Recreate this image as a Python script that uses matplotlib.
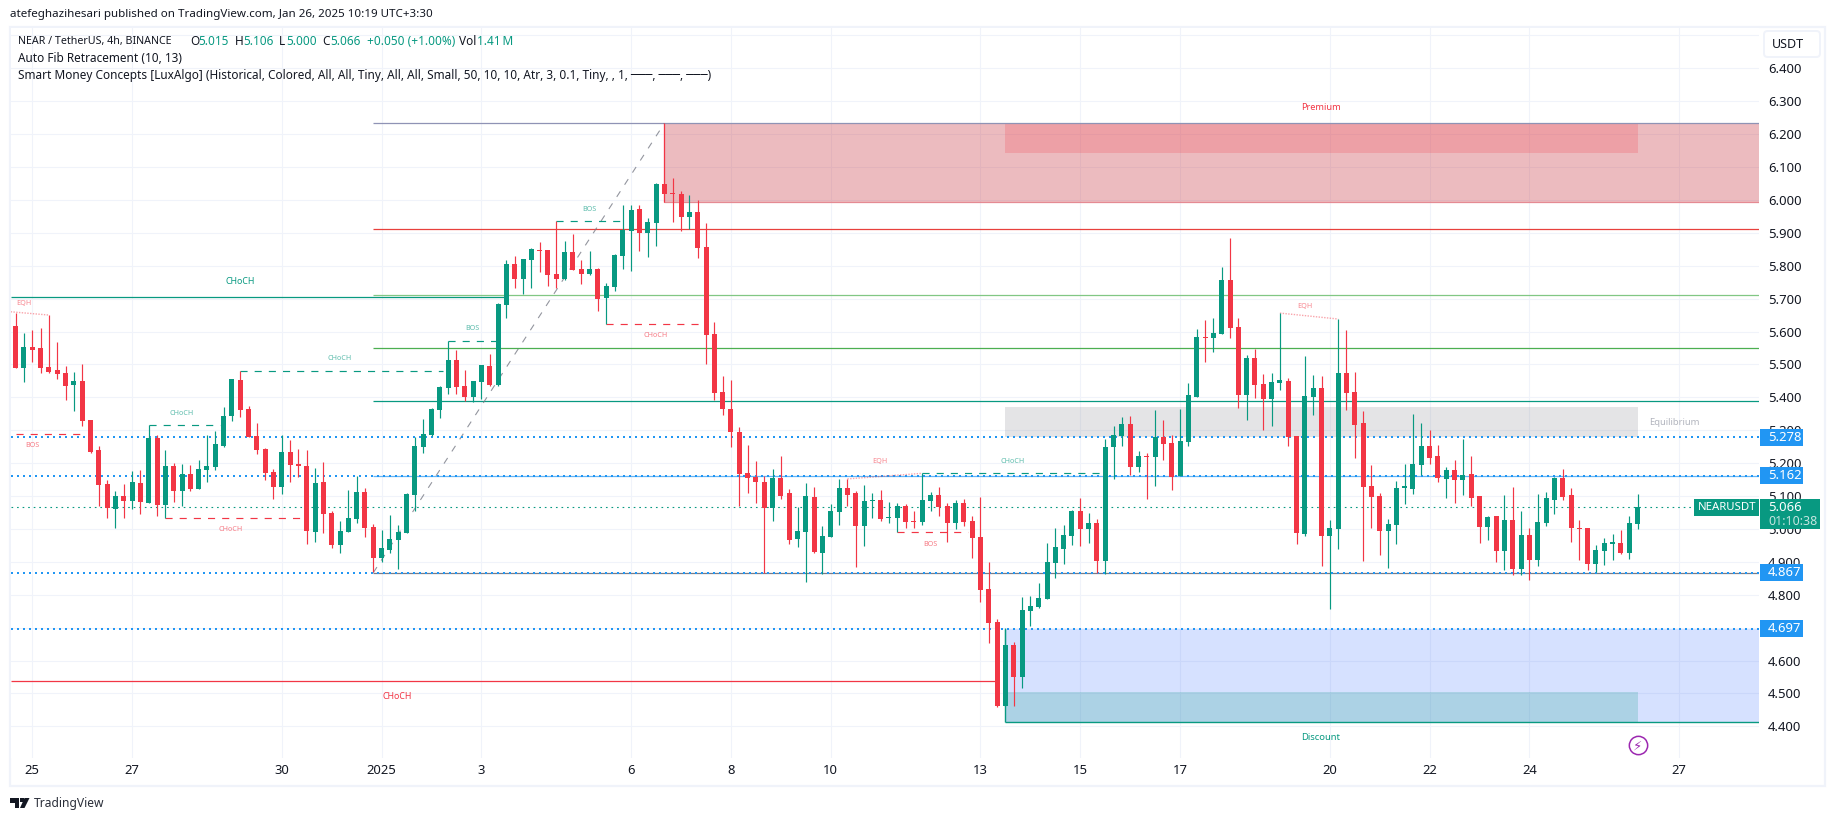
import numpy as np
import matplotlib
matplotlib.use('Agg')
import matplotlib.pyplot as plt
from matplotlib.patches import Rectangle, FancyBboxPatch, Polygon

W, H = 1835, 821
plt.rcParams['font.family'] = ['Noto Sans', 'DejaVu Sans']

GREEN = '#089981'
RED = '#f23645'
BLUE = '#2196f3'
GREY = '#787b86'
TEXT = '#131722'
GRID = '#f0f3fa'

### 4h candles, first one is two candles before Dec 25
opens = [5.617, 5.490, 5.553, 5.550, 5.492, 5.483, 5.474, 5.437, 5.449, 5.331, 5.240, 5.136, 5.060, 5.100, 5.085, 5.139,
         5.079, 5.276, 5.072, 5.191, 5.115, 5.167, 5.121, 5.179, 5.188, 5.252, 5.343, 5.452, 5.364, 5.282, 5.243, 5.173,
         5.127, 5.234, 5.197, 5.191, 4.990, 5.142, 5.048, 4.951, 4.990, 5.030, 5.112, 5.006, 4.911, 4.936, 4.966, 4.987,
         5.103, 5.249, 5.285, 5.361, 5.428, 5.513, 5.434, 5.401, 5.446, 5.495, 5.437, 5.680, 5.805, 5.759, 5.817, 5.848,
         5.848, 5.775, 5.759, 5.842, 5.790, 5.775, 5.790, 5.702, 5.735, 5.829, 5.905, 5.972, 5.899, 5.930, 6.048, 6.021,
         6.018, 5.948, 5.963, 5.857, 5.592, 5.416, 5.364, 5.295, 5.170, 5.158, 5.143, 5.064, 5.155, 5.109, 4.969, 4.991,
         5.097, 4.927, 4.975, 5.051, 5.124, 5.109, 5.009, 5.085, 5.088, 5.033, 5.033, 5.070, 5.024, 5.021, 5.085, 5.103,
         5.070, 5.018, 5.079, 5.024, 4.975, 4.817, 4.717, 4.462, 4.647, 4.550, 4.750, 4.763, 4.787, 4.896, 4.939, 4.978,
         5.054, 5.000, 5.018, 4.902, 5.249, 5.282, 5.319, 5.188, 5.222, 5.219, 5.279, 5.261, 5.161, 5.264, 5.401, 5.583,
         5.580, 5.592, 5.757, 5.614, 5.407, 5.520, 5.441, 5.395, 5.444, 5.450, 5.282, 4.984, 5.401, 5.428, 4.978, 5.000,
         5.474, 5.416, 5.322, 5.130, 5.100, 4.994, 5.012, 5.125, 5.121, 5.194, 5.252, 5.221, 5.152, 5.179, 5.149, 5.167,
         5.100, 5.006, 5.039, 4.933, 5.027, 4.878, 4.981, 4.905, 5.018, 5.088, 5.155, 5.103, 5.003, 5.003, 4.893, 4.933,
         4.955, 4.957, 4.927, 5.015]
highs = [5.657, 5.595, 5.604, 5.610, 5.650, 5.568, 5.495, 5.477, 5.501, 5.331, 5.252, 5.148, 5.115, 5.136, 5.176, 5.179,
         5.316, 5.285, 5.240, 5.200, 5.197, 5.194, 5.209, 5.285, 5.297, 5.370, 5.455, 5.480, 5.373, 5.322, 5.246, 5.182,
         5.285, 5.270, 5.243, 5.240, 5.185, 5.203, 5.054, 5.024, 5.118, 5.161, 5.124, 5.015, 4.996, 5.042, 5.012, 5.109,
         5.279, 5.334, 5.367, 5.434, 5.571, 5.544, 5.483, 5.450, 5.498, 5.531, 5.686, 5.817, 5.829, 5.820, 5.854, 5.872,
         5.848, 5.935, 5.875, 5.896, 5.817, 5.845, 5.793, 5.747, 5.835, 5.984, 5.984, 5.984, 5.945, 6.051, 6.233, 6.066,
         6.027, 6.015, 6.000, 5.930, 5.629, 5.465, 5.452, 5.310, 5.255, 5.206, 5.161, 5.182, 5.222, 5.121, 5.067, 5.140,
         5.127, 5.009, 5.076, 5.152, 5.152, 5.115, 5.133, 5.109, 5.118, 5.082, 5.079, 5.076, 5.054, 5.169, 5.112, 5.127,
         5.079, 5.088, 5.091, 5.039, 5.097, 4.899, 4.726, 4.699, 4.656, 4.793, 4.796, 4.836, 4.957, 5.003, 5.012, 5.057,
         5.094, 5.048, 5.030, 5.273, 5.313, 5.340, 5.343, 5.237, 5.231, 5.361, 5.331, 5.285, 5.364, 5.444, 5.608, 5.635,
         5.641, 5.796, 5.884, 5.641, 5.529, 5.547, 5.471, 5.474, 5.656, 5.459, 5.282, 5.525, 5.468, 5.465, 5.027, 5.637,
         5.605, 5.477, 5.358, 5.194, 5.109, 5.030, 5.146, 5.197, 5.349, 5.322, 5.300, 5.255, 5.188, 5.209, 5.273, 5.222,
         5.100, 5.039, 5.039, 5.103, 5.127, 5.054, 5.003, 5.106, 5.112, 5.158, 5.182, 5.124, 5.027, 5.003, 4.951, 4.972,
         4.984, 4.996, 5.039, 5.106]
lows = [5.490, 5.447, 5.507, 5.474, 5.474, 5.455, 5.392, 5.358, 5.313, 5.231, 5.069, 5.033, 5.003, 5.033, 5.060, 5.045,
        5.079, 5.039, 5.032, 5.082, 5.069, 5.115, 5.121, 5.142, 5.179, 5.249, 5.328, 5.340, 5.279, 5.228, 5.148, 5.091,
        5.106, 5.142, 5.158, 4.954, 4.960, 4.987, 4.942, 4.927, 4.990, 5.018, 4.975, 4.869, 4.899, 4.927, 4.878, 4.987,
        5.054, 5.231, 5.282, 5.337, 5.410, 5.410, 5.389, 5.386, 5.395, 5.434, 5.434, 5.641, 5.732, 5.714, 5.732, 5.781,
        5.738, 5.732, 5.756, 5.787, 5.744, 5.772, 5.662, 5.622, 5.723, 5.790, 5.784, 5.845, 5.826, 5.860, 5.993, 5.933,
        5.905, 5.911, 5.823, 5.501, 5.392, 5.346, 5.249, 5.070, 5.109, 5.079, 4.866, 5.024, 5.091, 4.954, 4.945, 4.839,
        4.927, 4.863, 4.975, 5.012, 5.070, 4.884, 4.948, 5.033, 5.024, 5.018, 4.990, 5.003, 5.003, 5.012, 5.054, 5.039,
        4.960, 5.000, 5.009, 4.912, 4.778, 4.653, 4.459, 4.462, 4.462, 4.516, 4.705, 4.760, 4.787, 4.851, 4.893, 4.951,
        4.948, 4.957, 4.866, 4.863, 5.152, 5.252, 5.164, 5.173, 5.091, 5.130, 5.209, 5.118, 5.161, 5.252, 5.401, 5.507,
        5.538, 5.592, 5.580, 5.368, 5.331, 5.398, 5.301, 5.313, 5.422, 5.252, 4.954, 4.978, 5.346, 4.887, 4.756, 4.939,
        5.361, 5.215, 4.902, 5.003, 4.921, 4.881, 4.954, 5.076, 5.106, 5.164, 5.197, 5.142, 5.094, 5.079, 5.103, 5.070,
        4.957, 4.966, 4.899, 4.875, 4.860, 4.860, 4.845, 4.887, 5.009, 5.045, 5.088, 4.960, 4.905, 4.875, 4.869, 4.890,
        4.905, 4.924, 4.908, 5.000]
closes = [5.490, 5.553, 5.544, 5.490, 5.477, 5.471, 5.434, 5.449, 5.328, 5.234, 5.133, 5.063, 5.100, 5.085, 5.142, 5.082,
          5.276, 5.072, 5.191, 5.115, 5.167, 5.121, 5.182, 5.191, 5.258, 5.343, 5.455, 5.361, 5.279, 5.240, 5.170, 5.127,
          5.234, 5.194, 5.191, 4.993, 5.139, 5.045, 4.951, 4.993, 5.033, 5.112, 5.003, 4.911, 4.942, 4.969, 4.990, 5.106,
          5.252, 5.288, 5.364, 5.431, 5.513, 5.431, 5.401, 5.450, 5.498, 5.437, 5.683, 5.805, 5.759, 5.820, 5.851, 5.845,
          5.772, 5.759, 5.842, 5.787, 5.775, 5.790, 5.699, 5.738, 5.832, 5.908, 5.969, 5.899, 5.933, 6.048, 6.018, 6.018,
          5.948, 5.963, 5.854, 5.589, 5.413, 5.364, 5.295, 5.167, 5.155, 5.143, 5.064, 5.155, 5.100, 4.966, 4.994, 5.100,
          4.930, 4.978, 5.054, 5.124, 5.103, 5.009, 5.085, 5.088, 5.030, 5.036, 5.070, 5.021, 5.021, 5.088, 5.103, 5.067,
          5.018, 5.079, 5.021, 4.972, 4.814, 4.714, 4.462, 4.647, 4.550, 4.753, 4.766, 4.790, 4.899, 4.945, 4.981, 5.054,
          5.000, 5.018, 4.902, 5.249, 5.286, 5.319, 5.188, 5.222, 5.219, 5.279, 5.258, 5.158, 5.267, 5.407, 5.583, 5.580,
          5.595, 5.757, 5.611, 5.407, 5.520, 5.437, 5.395, 5.447, 5.453, 5.279, 4.987, 5.404, 5.428, 4.978, 5.003, 5.474,
          5.413, 5.316, 5.127, 5.097, 4.994, 5.015, 5.124, 5.127, 5.197, 5.252, 5.215, 5.155, 5.179, 5.148, 5.164, 5.094,
          5.006, 5.036, 4.933, 5.027, 4.878, 4.981, 4.905, 5.021, 5.094, 5.155, 5.097, 5.003, 5.000, 4.893, 4.936, 4.957,
          4.957, 4.927, 5.018, 5.066]
candle_idx = np.arange(len(opens)) - 2

### axis ticks
day_ticks = [0, 12, 30, 42, 54, 72, 84, 96, 114, 126, 138, 156, 168, 180, 198]
day_labels = ['25', '27', '30', '2025', '3', '6', '8', '10', '13', '15', '17', '20', '22', '24', '27']
price_ticks = [4.4, 4.5, 4.6, 4.7, 4.8, 4.9, 5.0, 5.1, 5.2, 5.3, 5.4, 5.5, 5.6, 5.7, 5.8, 5.9, 6.0, 6.1, 6.2, 6.3, 6.4, 6.5]

### fib levels and swing
fib_prices = [6.233, 5.911, 5.711, 5.551, 5.389, 5.162, 4.867]
fib_colors = ['#8f93b5', '#e8403c', '#81c784', '#4caf50', GREEN, '#64b5f6', GREY]
fib_start = 41
fib_swing_x = [41, 76]
fib_swing_y = [4.867, 6.233]

### price tags on the axis
tag_prices = [5.278, 5.162, 4.867, 4.697]
last_price = 5.066

### smart money zones
premium_top, premium_bottom, premium_inner = 6.233, 5.993, 6.143
equil_top, equil_bottom = 5.370, 5.278
discount_top, discount_bottom, discount_inner = 4.697, 4.413, 4.503
premium_start, zone_start, zone_end = 76, 117, 193

### structure breaks: start candle, end candle, price
dash_starts = [-2, 14, 16, 25, 50, 63, 69, 104, 107]
dash_ends = [6.5, 22.6, 32.4, 49.4, 55.7, 71.4, 80.1, 112.5, 128.7]
dash_prices = [5.288, 5.315, 5.032, 5.479, 5.570, 5.935, 5.622, 4.990, 5.169]
dash_colors = [RED, GREEN, RED, GREEN, GREEN, GREEN, RED, RED, GREEN]
struct_texts = ['BOS', 'CHoCH', 'CHoCH', 'CHoCH', 'BOS', 'BOS', 'CHoCH', 'BOS', 'CHoCH']
struct_text_x = [0, 17.9, 23.9, 37, 52.9, 67, 75, 108, 117.9]
struct_text_y = [5.254, 5.351, 4.999, 5.518, 5.610, 5.971, 5.588, 4.952, 5.204]

eqh_x = [[-2.6, 2], [98, 107], [150, 157]]
eqh_y = [[5.660, 5.650], [5.152, 5.169], [5.656, 5.638]]
eqh_text_x = [-1, 101.9, 153]
eqh_text_y = [5.686, 5.204, 5.675]

fig = plt.figure(figsize=(W / 100, H / 100), dpi=100, facecolor='white')
LEFT, RIGHT, TOP, BOTTOM = 11, 1759, 28, 758
ax = fig.add_axes([LEFT / W, 1 - BOTTOM / H, (RIGHT - LEFT) / W, (BOTTOM - TOP) / H])
xmin, xmax = -2.56, 207.6
ax.set_xlim(xmin, xmax)
ax.set_ylim(4.3037, 6.5225)
for side in ax.spines.values():
    side.set_visible(False)
ax.set_axisbelow(True)
ax.grid(True, color=GRID, lw=0.8)
ax.set_xticks(day_ticks)
ax.set_xticklabels(day_labels)
ax.set_yticks(price_ticks)
ax.set_yticklabels(['%.3f' % p for p in price_ticks[:-1]] + [''])
ax.yaxis.tick_right()
ax.tick_params(axis='both', length=0, labelsize=9.4, labelcolor=TEXT)
ax.tick_params(axis='x', pad=4.5)
ax.tick_params(axis='y', pad=6.5)
ax.get_xticklabels()[3].set_fontweight('bold')


def fig_text(x, y, s, **kw):
    kw.setdefault('color', TEXT)
    kw.setdefault('fontsize', 8.5)
    kw.setdefault('va', 'center')
    return fig.text(x / W, 1 - y / H, s, **kw)


def fig_xy(points):
    return [(x / W, 1 - y / H) for x, y in points]


def zone(x0, x1, y0, y1, color, alpha):
    ax.add_patch(Rectangle((x0, y0), x1 - x0, y1 - y0, facecolor=color, alpha=alpha, lw=0, zorder=1))


### zones
zone(premium_start, xmax, premium_bottom, premium_top, '#c3202d', 0.3)
zone(zone_start, zone_end, premium_inner, premium_top, RED, 0.2)
zone(zone_start, zone_end, equil_bottom, equil_top, GREY, 0.2)
zone(zone_start, xmax, discount_bottom, discount_top, '#2962ff', 0.19)
zone(zone_start, zone_end, discount_bottom, discount_inner, GREEN, 0.2)
ax.hlines(premium_bottom, premium_start, xmax, color='#e58a93', lw=0.9, zorder=1.5)
ax.vlines(premium_start, premium_bottom, premium_top, color=RED, lw=0.8, zorder=1.5)
ax.hlines(discount_bottom, zone_start, xmax, color=GREEN, lw=1.0, zorder=1.5)
ax.vlines(zone_start, discount_bottom, discount_top, color=GREEN, lw=1.0, zorder=1.5)

### fib lines
for p, c in zip(fib_prices, fib_colors):
    ax.hlines(p, fib_start, xmax, color=c, lw=0.9, zorder=2)
ax.plot(fib_swing_x, fib_swing_y, color=GREY, lw=0.8, linestyle=(0, (6, 7)), alpha=0.8, zorder=2)

### dotted price lines
for p in tag_prices:
    ax.axhline(p, color=BLUE, lw=1.44, linestyle=(0, (1, 2)), zorder=2.2)
ax.axhline(last_price, color=GREEN, lw=0.8, linestyle=(0, (1.5, 3.5)), zorder=2.2)

### CHoCH solid lines
ax.hlines(5.704, xmin, 56.7, color=GREEN, lw=0.9, zorder=2)
ax.hlines(4.537, xmin, 115.7, color=RED, lw=0.9, zorder=2)
ax.text(25.0, 5.752, 'CHoCH', color=GREEN, fontsize=6.3, ha='center', va='center')
ax.text(43.9, 4.491, 'CHoCH', color=RED, fontsize=6.3, ha='center', va='center')

### structure dashes
for x0, x1, p, c in zip(dash_starts, dash_ends, dash_prices, dash_colors):
    ax.plot([x0, x1], [p, p], color=c, lw=0.85, linestyle=(0, (6, 6)), zorder=2.5)
for x, y, s, c in zip(struct_text_x, struct_text_y, struct_texts, dash_colors):
    ax.text(x, y, s, color=c, fontsize=5.2, alpha=0.65, ha='center', va='center', zorder=4)
for xs, ys, tx, ty in zip(eqh_x, eqh_y, eqh_text_x, eqh_text_y):
    ax.plot(xs, ys, color=RED, alpha=0.45, lw=1.0, linestyle=(0, (1, 1)), zorder=2.5)
    ax.text(tx, ty, 'EQH', color=RED, fontsize=5.2, alpha=0.6, ha='center', va='center', zorder=4)

ax.text(154.9, 6.282, 'Premium', color=RED, fontsize=6.6, ha='center', va='center', zorder=4)
ax.text(154.9, 4.367, 'Discount', color=GREEN, fontsize=6.8, ha='center', va='center', zorder=4)
ax.text(197.4, 5.323, 'Equilibrium', color='#b2b5be', fontsize=6.8, ha='center', va='center', zorder=4)

### candles
candle_colors = [GREEN if c >= o else RED for o, c in zip(opens, closes)]
body_low = np.minimum(opens, closes)
body_high = np.maximum(opens, closes)
ax.vlines(candle_idx, lows, highs, color=candle_colors, lw=0.85, zorder=3)
ax.bar(candle_idx, np.maximum(body_high - body_low, 0.004), bottom=body_low, width=0.6,
       color=candle_colors, lw=0, zorder=3.1)

### realtime marker
ax.plot([193], [4.342], marker='o', ms=13.2, mfc='white', mec='#9c27b0', mew=1.1, zorder=4)
ax.text(193, 4.340, '\u26a1', color='#9c27b0', fontsize=9.5, family='DejaVu Sans', ha='center', va='center', zorder=5)

### axis tags
ytrans = ax.get_yaxis_transform()
axw = float(RIGHT - LEFT)
for p in tag_prices:
    ax.add_patch(Rectangle((1.0005, p - 0.0258), 43 / axw, 0.0516, transform=ytrans, clip_on=False,
                           facecolor=BLUE, lw=0, zorder=6))
    ax.text(1 + 9 / axw, p, '%.3f' % p, transform=ytrans, color='white', fontsize=9.4, weight='medium',
            va='center', clip_on=False, zorder=7)
ax.add_patch(Rectangle((1 - 65 / axw, last_price - 0.0258), 65 / axw, 0.0516, transform=ytrans, clip_on=False,
                       facecolor=GREEN, lw=0, zorder=6))
ax.text(1 - 61 / axw, last_price, 'NEARUSDT', transform=ytrans, color='white', fontsize=8.2, weight='medium',
        va='center', clip_on=False, zorder=7)
ax.add_patch(Rectangle((1.0005, last_price - 0.0668), 60 / axw, 0.0926, transform=ytrans, clip_on=False,
                       facecolor=GREEN, lw=0, zorder=6))
ax.text(1 + 9 / axw, last_price, '%.3f' % last_price, transform=ytrans, color='white', fontsize=9.4, weight='medium',
        va='center', clip_on=False, zorder=7)
ax.text(1 + 9 / axw, last_price - 0.0426, '01:10:38', transform=ytrans, color='#c4e5df', fontsize=9.0,
        va='center', clip_on=False, zorder=7)

### outer frame
fig.add_artist(Rectangle((10 / W, 1 - 786 / H), 1815 / W, 759 / H, transform=fig.transFigure,
                         fill=False, edgecolor=GRID, lw=1.6, zorder=-1))
fig.add_artist(FancyBboxPatch((1764 / W, 1 - 57 / H), 56 / W, 26 / H, boxstyle='round,pad=0,rounding_size=0.002',
                              mutation_aspect=2.2, transform=fig.transFigure, facecolor='white',
                              edgecolor=GRID, lw=1.4, zorder=5))
fig_text(1772, 44.7, 'USDT', zorder=6, fontsize=9.0)

### header and legend
fig_text(10, 14.7, 'atefeghazihesari published on TradingView.com, Jan 26, 2025 10:19 UTC+3:30', fontsize=8.35)
fig_text(17.7, 41.7, 'NEAR / TetherUS, 4h, BINANCE', fontsize=7.7)
for x, s, c in [(190, 'O', TEXT), (198.7, '5.015', GREEN), (235, 'H', TEXT), (243, '5.106', GREEN),
                (279.3, 'L', TEXT), (286, '5.000', GREEN), (322.7, 'C', TEXT), (330, '5.066', GREEN),
                (366.7, '+0.050 (+1.00%)', GREEN), (459, 'Vol', TEXT), (477, '1.41\u2009M', GREEN)]:
    fig_text(x, 41.7, s, color=c)
fig_text(17.7, 58.7, 'Auto Fib Retracement (10, 13)')
fig_text(17.7, 75.7, 'Smart Money Concepts [LuxAlgo] (Historical, Colored, All, All, Tiny, All, All, Small, '
                     '50, 10, 10, Atr, 3, 0.1, Tiny, , 1, \u2500\u2500\u2500, \u2500\u2500\u2500, \u2500\u2500\u2500)')

### TradingView logo
fig.add_artist(Polygon(fig_xy([(10, 798), (19, 798), (19, 808), (14.5, 808), (14.5, 802.5), (10, 802.5)]),
                       closed=True, transform=fig.transFigure, facecolor=TEXT, lw=0))
fig.add_artist(Polygon(fig_xy([(24.5, 798), (29.5, 798), (24.5, 808), (20, 808)]),
                       closed=True, transform=fig.transFigure, facecolor=TEXT, lw=0))
fig.add_artist(Rectangle((20 / W, 1 - 802 / H), 4 / W, 4 / H, transform=fig.transFigure, facecolor=TEXT, lw=0))
fig_text(34, 803, 'TradingView', fontsize=8.7, color='#2a2e39')

fig.savefig('out.png', dpi=100)
